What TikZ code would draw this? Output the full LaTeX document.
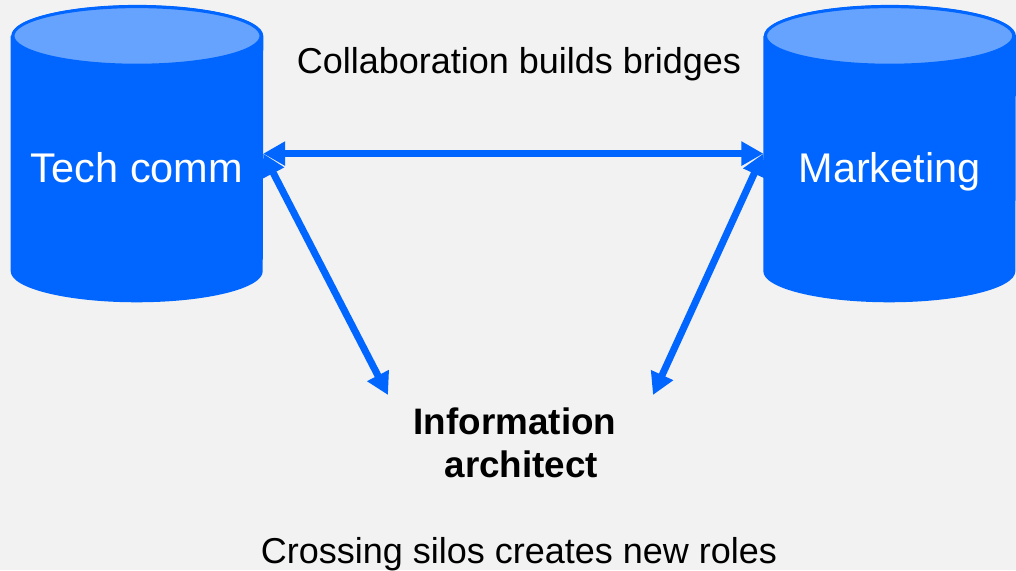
\documentclass[tikz,border=0pt]{standalone}
\usepackage{fontspec}
\setmainfont{Liberation Sans}
\usetikzlibrary{arrows.meta,positioning}
\definecolor{siloblue}{HTML}{0066FF}
\definecolor{silotop}{HTML}{66A3FF}
\definecolor{paper}{HTML}{F2F2F2}

\begin{document}
\begin{tikzpicture}[
   silo/.style={rectangle, minimum width=6.3cm, minimum height=7.42cm, inner sep=0pt},
   silotext/.style={text=white, anchor=base, font=\fontsize{29.5}{35}\selectfont},
   caption/.style={anchor=base, font=\fontsize{25.6}{31}\selectfont},
   link/.style={draw=siloblue, line width=5pt,
      {Triangle[length=15.6pt,width=16.4pt]}-{Triangle[length=15.6pt,width=16.4pt]}}]

\fill[paper] (0,0) rectangle (25.4,14.25);
\useasboundingbox (0,0) rectangle (25.4,14.25);

% the two silos
\node[silo] (tech) at (3.425,10.41) {};
\node[silo] (mkt) at (22.24,10.41) {};
\foreach \s in {tech,mkt} {
  \fill[siloblue] ([yshift=-0.775cm]\s.north west) -- ([yshift=0.775cm]\s.south west)
     arc[start angle=180, end angle=360, x radius=3.15cm, y radius=0.775cm]
     -- ([yshift=-0.775cm]\s.north east)
     arc[start angle=0, end angle=180, x radius=3.15cm, y radius=0.775cm] -- cycle;
  \filldraw[fill=silotop, draw=siloblue, line width=2pt]
     ([yshift=-0.775cm]\s.north) ellipse[x radius=3.1cm, y radius=0.73cm];
}
\node[silotext] (techtext) at (3.425,9.675) {Tech comm};
\node[silotext] (mkttext) at (22.24,9.675) {Marketing};

\node[caption] (bridge) at (12.975,12.4) {Collaboration builds bridges};
\node[align=center, font=\fontsize{26.2}{30.6}\bfseries] (ia) at (12.875,3.19)
   {Information\\\hspace*{0.35em}architect};
\node[caption] (roles) at (12.975,0.175) {Crossing silos creates new roles};

\coordinate (ial) at (9.7,4.375);
\coordinate (iar) at (16.325,4.375);

% arrows between the silos
\draw[link] (tech.east) -- (mkt.west);
\draw[link] (tech.east) -- (ial);
\draw[link] (mkt.west) -- (iar);

\end{tikzpicture}
\end{document}
